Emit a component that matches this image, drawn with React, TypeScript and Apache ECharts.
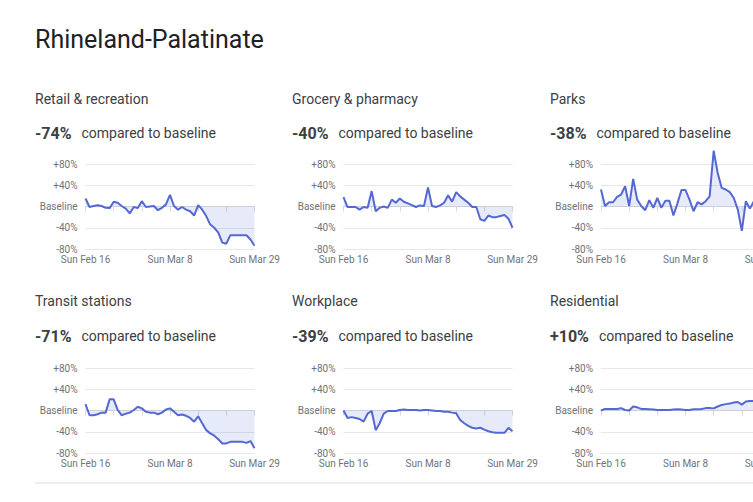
import React, { useEffect, useRef } from "react";
import * as echarts from "echarts";

// Daily dates, Sun Feb 16 to Sun Mar 29 (2020)
const days = [
  "Sun Feb 16", "Mon Feb 17", "Tue Feb 18", "Wed Feb 19", "Thu Feb 20", "Fri Feb 21", "Sat Feb 22",
  "Sun Feb 23", "Mon Feb 24", "Tue Feb 25", "Wed Feb 26", "Thu Feb 27", "Fri Feb 28", "Sat Feb 29",
  "Sun Mar 1", "Mon Mar 2", "Tue Mar 3", "Wed Mar 4", "Thu Mar 5", "Fri Mar 6", "Sat Mar 7",
  "Sun Mar 8", "Mon Mar 9", "Tue Mar 10", "Wed Mar 11", "Thu Mar 12", "Fri Mar 13", "Sat Mar 14",
  "Sun Mar 15", "Mon Mar 16", "Tue Mar 17", "Wed Mar 18", "Thu Mar 19", "Fri Mar 20", "Sat Mar 21",
  "Sun Mar 22", "Mon Mar 23", "Tue Mar 24", "Wed Mar 25", "Thu Mar 26", "Fri Mar 27", "Sat Mar 28",
  "Sun Mar 29",
];

// Change vs. baseline, percent
const retail = [
  15, -1, 1, 2.5, 1, -2.5, -3, 9, 7, 1,
  -4, -13, -1, -3, 10, -1, 0, 1, -7, -2.5,
  4, 22, 1, -6, -1, -6, -9, -17, 2.5, -6,
  -18, -34, -40, -49, -68, -70, -54, -54, -54, -54,
  -54, -62, -74,
];
const grocery = [
  17.5, -1, -1, -1, -6, -1, -2.5, 29, -9, -2.5,
  0, -2.5, 13, 7, 15, 9, 6, 2.5, -1, 2,
  1, 36, 1, -1, 2, 7, 21, 9, 27, 19,
  13, 7, -1, -1, -24, -27, -17, -20, -20, -18,
  -16, -23, -40,
];
const parks = [
  32, 1, 8, 8, 18, 22.5, 38, 1, 52, 13,
  1, -7, 12, -2.5, 16, -2.5, 11, 11, -17, 6,
  31, 31, 13, -9, 8, 4, 10, 19, 105, 63,
  35, 32, 27, 16, -6, -46, 10, -4, 10, 5,
  2, -15, -38,
];
const transit = [
  12, -9, -9, -7, -4, -4, 21, 21, 1, -9,
  -6, -4, 1, 7, 4, -2.5, -4, -4, -7, -4,
  2, 4, -2.5, -9, -7.5, -10, -14, -21, -11, -24,
  -37, -43, -47.5, -54, -62, -62, -59, -59, -59, -59,
  -61, -57.5, -71,
];
const workplace = [
  0, -14, -12.5, -14, -16, -21, -6, -1, -37, -24,
  -6, -1, -1, -1, 1, 2, 1, 1, 1, 0,
  1, 1, 0, -1, -1, -2.5, -2.5, -4, -5, -18,
  -24, -29, -32.5, -34, -32.5, -36, -39, -41, -42, -42,
  -42, -32.5, -39,
];
const residential = [
  0, 3, 3, 3, 3, 4.5, 1, 0, 7.5, 6,
  3, 3, 2.5, 2, 1, 1, 1, 1, 2, 2.5,
  2, 1, 1, 2.5, 2.5, 3, 4.5, 4.5, 4, 7.5,
  10.5, 12, 13, 15, 16, 11, 17, 18, 18, 18,
  17, 13, 10,
];

const categories = [
  "Retail & recreation", "Grocery & pharmacy", "Parks",
  "Transit stations", "Workplace", "Residential",
];
const headlines = ["-74%", "-40%", "-38%", "-71%", "-39%", "+10%"];
const seriesData = [retail, grocery, parks, transit, workplace, residential];
const shownDays = [0, 21, 42];

const LINE = "#5468d4";
const FILL = "rgba(84,104,212,0.2)";
const GRID = "#e6e7ea";
const TEXT_DARK = "#202124";
const TEXT_MID = "#3c4043";
const TEXT_AXIS = "#6f7378";
const FONT = "Roboto, 'Noto Sans', sans-serif";

const colText = [35, 292, 550];
const colPlot = [85.5, 343.5, 601];
const rowTitle = [99, 301];
const rowValue = [133, 336];
const rowPlotTop = [164, 368];
const PLOT_W = 169;
const PLOT_H = 85;

export default function App() {
  const ref = useRef<HTMLDivElement>(null);

  useEffect(() => {
    if (!ref.current) return;
    const chart = echarts.init(ref.current, null, { renderer: "svg" });

    const grids: any[] = [];
    const xAxes: any[] = [];
    const yAxes: any[] = [];
    const series: any[] = [];
    const graphics: any[] = [
      {
        type: "text",
        x: 35,
        y: 39,
        style: {
          text: "Rhineland-Palatinate",
          fontSize: 25,
          fontFamily: FONT,
          fill: TEXT_DARK,
          verticalAlign: "middle",
        },
      },
      {
        type: "line",
        shape: { x1: 35, y1: 483, x2: 753, y2: 483 },
        style: { stroke: "#dadce0", lineWidth: 1 },
      },
    ];

    seriesData.forEach((data, i) => {
      const col = i % 3;
      const row = Math.floor(i / 3);
      grids.push({
        left: colPlot[col],
        top: rowPlotTop[row],
        width: PLOT_W,
        height: PLOT_H,
        containLabel: false,
        outerBoundsMode: "none",
      });
      xAxes.push({
        type: "category",
        gridIndex: i,
        data: days,
        boundaryGap: false,
        axisLine: { show: true, lineStyle: { color: "#d6d8db" } },
        axisTick: { show: true, interval: 6, length: 5, lineStyle: { color: "#d6d8db" } },
        axisLabel: {
          interval: (idx: number) => shownDays.includes(idx),
          fontSize: 10,
          fontFamily: FONT,
          color: TEXT_AXIS,
          margin: 5,
          hideOverlap: false,
        },
        splitLine: { show: false },
      });
      yAxes.push({
        type: "value",
        gridIndex: i,
        min: -80,
        max: 80,
        interval: 40,
        axisLine: { show: false },
        axisTick: { show: false },
        axisLabel: {
          fontSize: 10,
          fontFamily: FONT,
          color: TEXT_AXIS,
          margin: 8,
          formatter: (v: number) => (v === 0 ? "Baseline" : v > 0 ? `+${v}%` : `${v}%`),
        },
        splitLine: { show: true, lineStyle: { color: GRID, width: 1 } },
      });
      series.push({
        type: "line",
        xAxisIndex: i,
        yAxisIndex: i,
        data,
        symbol: "none",
        clip: false,
        lineStyle: { color: LINE, width: 2 },
        areaStyle: { color: FILL, origin: 0 },
      });
      graphics.push(
        {
          type: "text",
          x: colText[col],
          y: rowTitle[row],
          style: {
            text: categories[i],
            fontSize: 14,
            fontFamily: FONT,
            fill: TEXT_MID,
            verticalAlign: "middle",
          },
        },
        {
          type: "text",
          x: colText[col],
          y: rowValue[row],
          style: {
            text: `{v|${headlines[i]}}{c|compared to baseline}`,
            verticalAlign: "middle",
            rich: {
              v: { fontSize: 16, fontWeight: "bold", fontFamily: FONT, fill: TEXT_MID },
              c: { fontSize: 14, fontFamily: FONT, fill: TEXT_MID, padding: [0, 0, 0, 10] },
            },
          },
        }
      );
    });

    chart.setOption({
      animation: false,
      backgroundColor: "#ffffff",
      grid: grids,
      xAxis: xAxes,
      yAxis: yAxes,
      series,
      graphic: graphics,
    });

    return () => chart.dispose();
  }, []);

  return (
    <div
      ref={ref}
      style={{ position: "fixed", left: 0, top: 0, width: 753, height: 502, background: "#fff" }}
    />
  );
}
